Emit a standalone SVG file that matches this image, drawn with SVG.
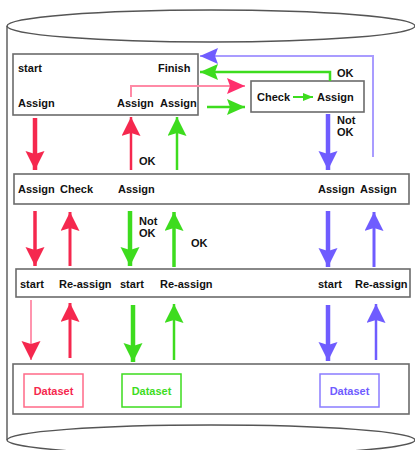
<svg xmlns="http://www.w3.org/2000/svg" width="415" height="450" viewBox="0 0 415 450">
<style>
.box{fill:none;stroke:#6b6b6b;stroke-width:1.6}
.cyl{fill:none;stroke:#555;stroke-width:1.4}
.t{font-family:"Liberation Sans",Arial,sans-serif;font-weight:bold;font-size:11px;fill:#111}
.ds{font-family:"Liberation Sans",Arial,sans-serif;font-weight:bold;font-size:11px;text-anchor:middle}
.red{stroke:#f5284e;fill:none}
.pink{stroke:#ff8aa6;fill:none}
.grn{stroke:#3ddc1e;fill:none}
.pur{stroke:#6f5cff;fill:none}
.lpur{stroke:#a99cff;fill:none}
</style>
<defs>
<marker id="hRed" markerUnits="userSpaceOnUse" markerWidth="20" markerHeight="20" refX="19" refY="9.5" orient="auto"><path d="M0,0 L19,9.5 L0,19 L3,9.5 z" fill="#f5284e"/></marker>
<marker id="hPink" markerUnits="userSpaceOnUse" markerWidth="20" markerHeight="20" refX="19" refY="9.5" orient="auto"><path d="M0,0 L19,9.5 L0,19 L3,9.5 z" fill="#ff2f6d"/></marker>
<marker id="hGrn" markerUnits="userSpaceOnUse" markerWidth="20" markerHeight="20" refX="19" refY="9.5" orient="auto"><path d="M0,0 L19,9.5 L0,19 L3,9.5 z" fill="#3ddc1e"/></marker>
<marker id="hPur" markerUnits="userSpaceOnUse" markerWidth="20" markerHeight="20" refX="19" refY="9.5" orient="auto"><path d="M0,0 L19,9.5 L0,19 L3,9.5 z" fill="#6f5cff"/></marker>
<marker id="sPink" markerUnits="userSpaceOnUse" markerWidth="18" markerHeight="16" refX="18" refY="8" orient="auto"><path d="M0,0 L18,8 L0,16 L3,8 z" fill="#ff2f6d"/></marker>
<marker id="sGrn" markerUnits="userSpaceOnUse" markerWidth="18" markerHeight="16" refX="18" refY="8" orient="auto"><path d="M0,0 L18,8 L0,16 L3,8 z" fill="#3ddc1e"/></marker>
<marker id="sPur" markerUnits="userSpaceOnUse" markerWidth="18" markerHeight="16" refX="18" refY="8" orient="auto"><path d="M0,0 L18,8 L0,16 L3,8 z" fill="#6f5cff"/></marker>
<marker id="tGrn" markerUnits="userSpaceOnUse" markerWidth="10" markerHeight="8" refX="10" refY="4" orient="auto"><path d="M0,0 L10,4 L0,8 z" fill="#3ddc1e"/></marker>
</defs>

<g id="cylinder">
<line class="cyl" x1="7" y1="26" x2="7" y2="440"/>
<ellipse class="cyl" cx="211" cy="26" rx="204" ry="16" fill="#fff"/>
<ellipse class="cyl" cx="211" cy="440" rx="204" ry="15"/>
</g>

<g id="box1">
<rect class="box" x="13" y="54" width="185" height="61"/>
<text class="t" x="18" y="72">start</text>
<text class="t" x="158" y="72">Finish</text>
<text class="t" x="18" y="107">Assign</text>
<text class="t" x="117" y="107">Assign</text>
<text class="t" x="160" y="107">Assign</text>
</g>

<g id="checkbox">
<rect class="box" x="251" y="81" width="113" height="31"/>
<text class="t" x="257" y="101">Check</text>
<text class="t" x="317" y="101">Assign</text>
</g>

<g id="box2">
<rect class="box" x="14" y="174" width="395" height="30"/>
<text class="t" x="18" y="193">Assign</text>
<text class="t" x="60" y="193">Check</text>
<text class="t" x="118" y="193">Assign</text>
<text class="t" x="318" y="193">Assign</text>
<text class="t" x="360" y="193">Assign</text>
</g>

<g id="box3">
<rect class="box" x="16" y="269" width="394" height="28"/>
<text class="t" x="20" y="288">start</text>
<text class="t" x="59" y="288">Re-assign</text>
<text class="t" x="120" y="288">start</text>
<text class="t" x="160" y="288">Re-assign</text>
<text class="t" x="318" y="288">start</text>
<text class="t" x="355" y="288">Re-assign</text>
</g>

<g id="box4">
<rect class="box" x="13" y="364" width="396" height="50"/>
<g id="dataset-red">
<rect x="24" y="374" width="59" height="33" fill="none" stroke="#ff6a88" stroke-width="1.5"/>
<text class="ds" x="53.5" y="394.5" fill="#f5284e">Dataset</text>
</g>
<g id="dataset-green">
<rect x="122" y="374" width="59" height="33" fill="none" stroke="#3ddc1e" stroke-width="1.5"/>
<text class="ds" x="151.5" y="394.5" fill="#3ddc1e">Dataset</text>
</g>
<g id="dataset-purple">
<rect x="320" y="374" width="59" height="33" fill="none" stroke="#8a7cff" stroke-width="1.5"/>
<text class="ds" x="349.5" y="394.5" fill="#6f5cff">Dataset</text>
</g>
</g>

<g id="connectors">
<polyline class="pink" stroke-width="2" points="131,97 131,86 245,86" marker-end="url(#sPink)"/>
<line class="grn" stroke-width="2.5" x1="207" y1="107" x2="245" y2="107" marker-end="url(#sGrn)"/>
<line class="grn" stroke-width="2" x1="293" y1="97" x2="313" y2="97" marker-end="url(#tGrn)"/>
<polyline class="grn" stroke-width="2.5" points="330,81 330,72 200,72" marker-end="url(#sGrn)"/>
<polyline class="lpur" stroke-width="2" points="373,157 373,56 200,56" marker-end="url(#sPur)"/>
<line class="red" stroke-width="4.5" x1="35" y1="118" x2="35" y2="170" marker-end="url(#hRed)"/>
<line class="red" stroke-width="2.5" x1="131" y1="170" x2="131" y2="117" marker-end="url(#hRed)"/>
<line class="grn" stroke-width="2.5" x1="177" y1="170" x2="177" y2="117" marker-end="url(#hGrn)"/>
<line class="pur" stroke-width="4.5" x1="328" y1="114" x2="328" y2="170" marker-end="url(#hPur)"/>
<line class="red" stroke-width="3.5" x1="35" y1="211" x2="35" y2="266" marker-end="url(#hRed)"/>
<line class="red" stroke-width="3" x1="70" y1="266" x2="70" y2="212" marker-end="url(#hRed)"/>
<line class="grn" stroke-width="4.5" x1="130" y1="211" x2="130" y2="266" marker-end="url(#hGrn)"/>
<line class="grn" stroke-width="3.5" x1="174" y1="267" x2="174" y2="212" marker-end="url(#hGrn)"/>
<line class="pur" stroke-width="4.5" x1="328" y1="211" x2="328" y2="267" marker-end="url(#hPur)"/>
<line class="pur" stroke-width="3" x1="374" y1="267" x2="374" y2="212" marker-end="url(#hPur)"/>
<line class="pink" stroke-width="1.8" x1="31" y1="300" x2="31" y2="360" marker-end="url(#hRed)"/>
<line class="red" stroke-width="3" x1="70" y1="358" x2="70" y2="303" marker-end="url(#hRed)"/>
<line class="grn" stroke-width="4.5" x1="133" y1="305" x2="133" y2="362" marker-end="url(#hGrn)"/>
<line class="grn" stroke-width="2.5" x1="174" y1="360" x2="174" y2="304" marker-end="url(#hGrn)"/>
<line class="pur" stroke-width="4.5" x1="328" y1="305" x2="328" y2="361" marker-end="url(#hPur)"/>
<line class="pur" stroke-width="2.5" x1="376" y1="360" x2="376" y2="304" marker-end="url(#hPur)"/>
<text class="t" x="337" y="77">OK</text>
<text class="t" x="337" y="124">Not</text>
<text class="t" x="337" y="136">OK</text>
<text class="t" x="139" y="165">OK</text>
<text class="t" x="139" y="225">Not</text>
<text class="t" x="139" y="237">OK</text>
<text class="t" x="191" y="247">OK</text>
</g>
</svg>
